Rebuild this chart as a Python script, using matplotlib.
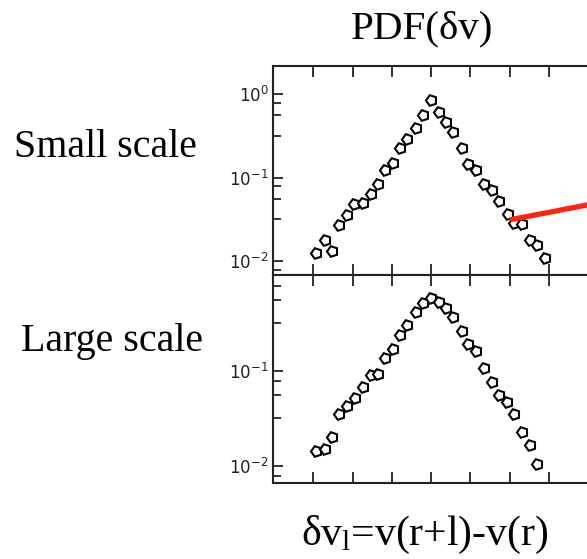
import numpy as np
import matplotlib.pyplot as plt
from matplotlib.ticker import FixedLocator, NullFormatter

plt.rcParams['mathtext.fontset'] = 'custom'
plt.rcParams['mathtext.rm'] = 'Liberation Serif'
plt.rcParams['mathtext.it'] = 'Liberation Serif:italic'

# velocity increment bins and PDF values, small scale
dv_small = [-2.92, -2.70, -2.52, -2.34, -2.15, -1.96, -1.73, -1.53, -1.34, -1.17,
            -0.98, -0.79, -0.60, -0.38, -0.20, -0.01, 0.20, 0.38, 0.57, 0.78,
            0.95, 1.14, 1.35, 1.55, 1.74, 1.95, 2.12, 2.31, 2.53, 2.71, 2.91]
pdf_small = [0.0124, 0.0178, 0.0133, 0.027, 0.0356, 0.048, 0.050, 0.0636, 0.083, 0.123,
             0.151, 0.229, 0.288, 0.397, 0.564, 0.855, 0.618, 0.461, 0.350, 0.225,
             0.146, 0.123, 0.0838, 0.071, 0.0528, 0.0362, 0.0283, 0.0275, 0.0178, 0.0155, 0.0110]

# large scale
dv_large = [-2.92, -2.70, -2.52, -2.34, -2.14, -1.94, -1.73, -1.54, -1.34, -1.17,
            -0.98, -0.79, -0.60, -0.38, -0.20, -0.01, 0.20, 0.38, 0.57, 0.78,
            0.95, 1.15, 1.35, 1.56, 1.74, 1.93, 2.12, 2.31, 2.53, 2.71]
pdf_large = [0.0145, 0.0151, 0.0204, 0.035, 0.0428, 0.0524, 0.0673, 0.0908, 0.093, 0.136,
             0.169, 0.239, 0.305, 0.421, 0.516, 0.592, 0.536, 0.463, 0.367, 0.264,
             0.192, 0.164, 0.107, 0.076, 0.0559, 0.0475, 0.035, 0.023, 0.0166, 0.0105]

# point marked by the red pointer
mark_dv, mark_pdf = 2.07, 0.0316

xticks = [-3, -2, -1, 0, 1, 2, 3]
W, H = 587, 559

# panels run past the right edge of the canvas
x0, x1 = 272.7, 605
unit = 39.25
fig = plt.figure(figsize=(W / 100, H / 100), dpi=100)
ax1 = fig.add_axes([x0 / W, 1 - 275 / H, (x1 - x0) / W, (275 - 66) / H])
ax2 = fig.add_axes([x0 / W, 1 - 483.3 / H, (x1 - x0) / W, (483.3 - 275) / H])

marker = (5, 0, 90)
for ax, x, y, ylim, yt in [
        (ax1, dv_small, pdf_small, (10 ** -2.168, 10 ** 0.34), [1e-2, 1e-1, 1]),
        (ax2, dv_large, pdf_large, (10 ** -2.182, 10 ** 0.0105), [1e-2, 1e-1])]:
    ax.plot(x, y, ls='none', marker=marker, ms=8, mfc='white', mec='black', mew=1.5)
    ax.set_yscale('log')
    ax.set_xlim((x0 - 431) / unit, (x1 - 431) / unit)
    ax.set_ylim(*ylim)
    ax.set_xticks(xticks)
    ax.set_xticklabels([])
    ax.yaxis.set_major_locator(FixedLocator(yt))
    minors = [d * s for d in [1e-3, 1e-2, 1e-1, 1] for s in (3.2, 5.6, 7.9)]
    ax.yaxis.set_minor_locator(FixedLocator(minors))
    ax.yaxis.set_minor_formatter(NullFormatter())
    ax.tick_params(which='both', direction='in', top=True, right=True,
                   width=1.3, colors='#222222')
    ax.tick_params(axis='x', length=8)
    ax.tick_params(axis='y', which='major', length=7, labelsize=12, pad=3)
    ax.tick_params(axis='y', which='minor', length=6)
    for s in ax.spines.values():
        s.set_linewidth(1.5)
        s.set_color('#222222')

ax1.annotate('', xy=(mark_dv, mark_pdf), xycoords='data',
             xytext=(600 / W, 1 - 202.5 / H), textcoords='figure fraction',
             arrowprops=dict(arrowstyle='-', lw=3.8, color='#ff2412',
                             shrinkA=0, shrinkB=0))

serif = 'Liberation Serif'
fig.text(422 / W, 1 - 38 / H, 'PDF(δv)', family=serif, fontsize=29.5,
         ha='center', va='baseline')
fig.text(14 / W, 1 - 157 / H, 'Small scale', family=serif, fontsize=28.8,
         ha='left', va='baseline')
fig.text(21 / W, 1 - 351 / H, 'Large scale', family=serif, fontsize=28.8,
         ha='left', va='baseline')
fig.text(425 / W, 1 - 545 / H, r'δv$_{\mathrm{l}}$=v(r+l)-v(r)', family=serif,
         fontsize=30, ha='center', va='baseline')

fig.savefig('out.png', dpi=100)
